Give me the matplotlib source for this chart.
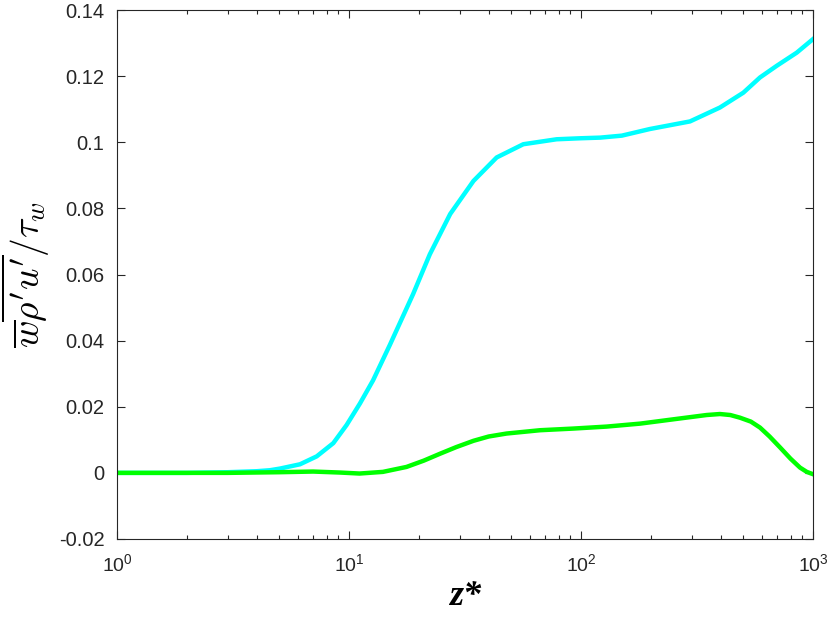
import matplotlib
matplotlib.use("Agg")
import matplotlib.pyplot as plt
from matplotlib.ticker import LogLocator, NullFormatter

# values
z_cyan = [1, 2, 3, 4, 4.56, 5.04, 6.15, 7.26, 8.56, 9.77, 11.15, 12.7, 15,
          16, 18.9, 22.3, 27.3, 34.4, 43.3, 56.4, 78.5, 99, 121, 150, 198,
          295, 397, 501, 591, 697, 851, 1000]
flux_cyan = [0, 0, 0.0002, 0.0005, 0.0008, 0.0013, 0.0026, 0.0050, 0.0090,
             0.0145, 0.0210, 0.0280, 0.0387, 0.0430, 0.0541, 0.0661, 0.0783,
             0.0883, 0.0954, 0.0994, 0.1009, 0.1012, 0.1014, 0.1020, 0.1040,
             0.1063, 0.1105, 0.1150, 0.1196, 0.1231, 0.1271, 0.1312]

z_green = [1, 3, 5, 7, 9.15, 11.1, 14, 17.7, 21, 24.7, 29, 34.4, 40, 47.8,
           66.6, 92.6, 129, 180, 250, 348, 397, 440, 484, 540, 591, 650, 721,
           800, 879, 940, 1000]
flux_green = [0, 0, 0.0002, 0.0004, 0.0001, -0.0002, 0.0003, 0.0018, 0.0037,
              0.0058, 0.0078, 0.0097, 0.0110, 0.0119, 0.0129, 0.0134, 0.0140,
              0.0149, 0.0162, 0.0175, 0.0178, 0.0175, 0.0167, 0.0155, 0.0137,
              0.0110, 0.0077, 0.0043, 0.0016, 0.0003, -0.0004]

xticks = [1, 10, 100, 1000]
xtick_labels = [r'$\mathregular{10^{0}}$', r'$\mathregular{10^{1}}$',
                r'$\mathregular{10^{2}}$', r'$\mathregular{10^{3}}$']
yticks = [-0.02, 0, 0.02, 0.04, 0.06, 0.08, 0.1, 0.12, 0.14]
ytick_labels = ['-0.02', '0', '0.02', '0.04', '0.06', '0.08', '0.1', '0.12', '0.14']

plt.rcParams['font.family'] = 'Liberation Sans'
plt.rcParams['mathtext.fontset'] = 'custom'
plt.rcParams['mathtext.rm'] = 'Liberation Sans'
plt.rcParams['mathtext.it'] = 'Liberation Sans:italic'

fig = plt.figure(figsize=(8.3, 6.21), dpi=100)
ax = fig.add_axes([117 / 830, 1 - 539 / 621, 696 / 830, 529 / 621])

ax.plot(z_cyan, flux_cyan, color=(0, 1, 1), lw=3.2)
ax.plot(z_green, flux_green, color=(0, 1, 0), lw=3.2)

ax.set_xscale('log')
ax.set_xlim(1, 1000)
ax.set_ylim(-0.02, 0.14)
ax.set_xticks(xticks)
ax.set_xticklabels(xtick_labels)
ax.xaxis.set_minor_locator(LogLocator(base=10, subs=range(2, 10), numticks=20))
ax.xaxis.set_minor_formatter(NullFormatter())
ax.set_yticks(yticks)
ax.set_yticklabels(ytick_labels)

for s in ax.spines.values():
    s.set_color('#262626')
    s.set_linewidth(0.8)
ax.tick_params(which='both', direction='in', top=True, right=True,
               colors='#262626', width=0.8)
ax.tick_params(which='major', length=6)
ax.tick_params(which='minor', length=3)
ax.tick_params(axis='y', labelsize=14.5, pad=9)
ax.tick_params(axis='x', labelsize=14, pad=10)

ax.set_xlabel('z*', family='Liberation Serif', style='italic', weight='bold',
              fontsize=26)
ax.xaxis.set_label_coords(0.5, -0.077)
ax.set_ylabel(r"$\overline{w}\overline{\rho' u'}/\tau_w$", fontsize=27,
              math_fontfamily='cm')
ax.yaxis.set_label_coords(-0.094, 0.5)

fig.savefig('out.png', dpi=100)
